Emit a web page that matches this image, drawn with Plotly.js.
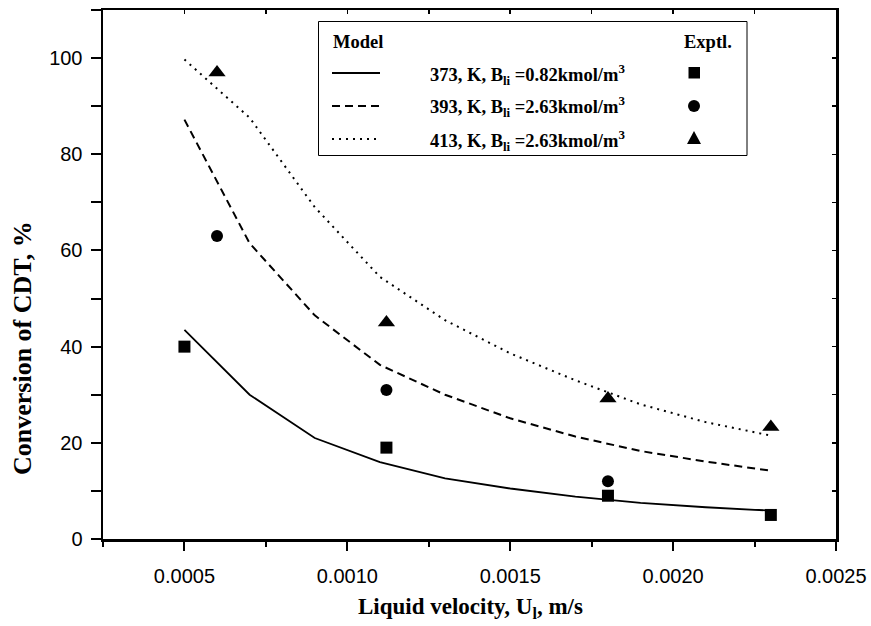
<!DOCTYPE html>
<html>
<head>
<meta charset="utf-8">
<script src="https://cdn.plot.ly/plotly-3.0.1.min.js"></script>
<style>html,body{margin:0;padding:0;background:#fff;}#chart{width:871px;height:626px;}</style>
</head>
<body>
<div id="chart"></div>
<script>
// ---- data ----
const modelVelocity = [0.0005, 0.0007, 0.0009, 0.0011, 0.0013, 0.0015, 0.0017, 0.0019, 0.0021, 0.0023];
const model373 = [43.5, 30.0, 21.0, 16.0, 12.6, 10.5, 8.8, 7.5, 6.6, 5.9];
const model393 = [87.2, 61.5, 46.5, 36.2, 30.0, 25.1, 21.3, 18.3, 16.1, 14.2];
const model413 = [99.7, 87.6, 69.0, 54.5, 45.5, 38.6, 33.0, 28.0, 24.3, 21.5];

const exp373Velocity = [0.0005, 0.00112, 0.0018, 0.0023];
const exp373 = [40, 19, 9, 5];
const exp393Velocity = [0.0006, 0.00112, 0.0018];
const exp393 = [63, 31, 12];
const exp413Velocity = [0.0006, 0.00112, 0.0018, 0.0023];
const exp413 = [97, 45, 29.2, 23.3];

const seriesLabels = [
  '373, K, B<sub>li</sub> =0.82kmol/m<sup>3</sup>',
  '393, K, B<sub>li</sub> =2.63kmol/m<sup>3</sup>',
  '413, K, B<sub>li</sub> =2.63kmol/m<sup>3</sup>'
];
const xTitle = 'Liquid velocity, U<sub>l</sub>, m/s';
const yTitle = 'Conversion of CDT, %';

// ---- layout helpers ----
const W = 871, H = 626;
const M = {l: 103, r: 35, t: 10, b: 87};
const PW = W - M.l - M.r, PH = H - M.t - M.b;
const px = x => (x - M.l) / PW;
const py = y => (H - M.b - y) / PH;

const serif = {family: 'Liberation Serif, Times New Roman, serif', size: 18.5, color: '#000', weight: 'bold'};
const sans = {family: 'Liberation Sans, Arial, sans-serif', size: 20, color: '#000'};

const lineStyles = [
  {color: '#000', width: 1.8, dash: 'solid'},
  {color: '#000', width: 2, dash: '8px,5px'},
  {color: '#000', width: 2, dash: '2px,5px'}
];

const traces = [
  {x: modelVelocity, y: model373, mode: 'lines', line: lineStyles[0], showlegend: false},
  {x: modelVelocity, y: model393, mode: 'lines', line: lineStyles[1], showlegend: false},
  {x: modelVelocity, y: model413, mode: 'lines', line: lineStyles[2], showlegend: false},
  {x: exp373Velocity, y: exp373, mode: 'markers', marker: {symbol: 'square', size: 12, color: '#000'}, showlegend: false},
  {x: exp393Velocity, y: exp393, mode: 'markers', marker: {symbol: 'circle', size: 12, color: '#000'}, showlegend: false},
  {x: exp413Velocity, y: exp413, mode: 'markers', marker: {symbol: 'triangle-up', size: 15, color: '#000'}, showlegend: false},
  {x: [], y: [], xaxis: 'x2', yaxis: 'y2', showlegend: false, hoverinfo: 'skip'}
];

const rowY = [73, 106, 139];
const shapes = [
  {type: 'rect', xref: 'paper', yref: 'paper', x0: px(318.5), x1: px(747), y0: py(155.5), y1: py(21.5),
   line: {color: '#000', width: 1}, fillcolor: 'rgba(0,0,0,0)'}
];
rowY.forEach((y, i) => {
  shapes.push({type: 'line', xref: 'paper', yref: 'paper', x0: px(332), x1: px(380), y0: py(y), y1: py(y), line: lineStyles[i]});
});
// legend marker glyphs
shapes.push({type: 'rect', xref: 'paper', yref: 'paper', x0: px(688.5), x1: px(700), y0: py(78.5), y1: py(67), fillcolor: '#000', line: {width: 0}});
shapes.push({type: 'circle', xref: 'paper', yref: 'paper', x0: px(688), x1: px(700), y0: py(112), y1: py(100), fillcolor: '#000', line: {width: 0}});
shapes.push({type: 'path', xref: 'paper', yref: 'paper',
  path: 'M ' + px(687) + ' ' + py(144) + ' L ' + px(701) + ' ' + py(144) + ' L ' + px(694) + ' ' + py(131) + ' Z',
  fillcolor: '#000', line: {width: 0}});

const annotations = [
  {text: 'Model', xref: 'paper', yref: 'paper', x: px(331), y: py(42), xanchor: 'left', yanchor: 'middle', showarrow: false, font: serif},
  {text: 'Exptl.', xref: 'paper', yref: 'paper', x: px(734), y: py(42), xanchor: 'right', yanchor: 'middle', showarrow: false, font: serif},
  {text: xTitle, xref: 'paper', yref: 'paper', x: px(470), y: py(608), xanchor: 'center', yanchor: 'middle', showarrow: false,
   font: Object.assign({}, serif, {size: 23})},
  {text: yTitle, xref: 'paper', yref: 'paper', x: px(22), y: py(348), xanchor: 'center', yanchor: 'middle', textangle: -90, showarrow: false,
   font: Object.assign({}, serif, {size: 26})}
];
seriesLabels.forEach((t, i) => {
  annotations.push({text: t, xref: 'paper', yref: 'paper', x: px(428), y: py(rowY[i] + 1), xanchor: 'left', yanchor: 'middle', showarrow: false, font: serif});
});

const xr = [0.00025, 0.0025], yr = [0, 110];
const layout = {
  width: W, height: H,
  margin: M,
  paper_bgcolor: '#fff', plot_bgcolor: '#fff',
  showlegend: false,
  xaxis: {range: xr, tick0: 0, dtick: 0.0005, tickformat: '.4f', ticks: 'outside', ticklen: 9, tickwidth: 2, tickcolor: '#000',
    minor: {tick0: 0, dtick: 0.00025, ticks: 'outside', ticklen: 5, tickwidth: 2, tickcolor: '#000'},
    showline: true, linewidth: 2.5, linecolor: '#000', showgrid: false, zeroline: false, tickfont: sans, ticklabelstandoff: 8},
  yaxis: {range: yr, tick0: 0, dtick: 20, ticks: 'outside', ticklen: 10, tickwidth: 2, tickcolor: '#000',
    minor: {tick0: 0, dtick: 10, ticks: 'outside', ticklen: 10, tickwidth: 2, tickcolor: '#000'},
    showline: true, linewidth: 2.5, linecolor: '#000', showgrid: false, zeroline: false, tickfont: sans, ticklabelstandoff: 4},
  xaxis2: {range: xr, overlaying: 'x', side: 'top', anchor: 'y', tick0: 0, dtick: 0.00025, ticks: 'inside', ticklen: 4, tickwidth: 1.5,
    tickcolor: '#000', showticklabels: false, showline: true, linewidth: 2.5, linecolor: '#000', showgrid: false, zeroline: false},
  yaxis2: {range: yr, overlaying: 'y', side: 'right', anchor: 'x', tick0: 0, dtick: 10, ticks: 'inside', ticklen: 4, tickwidth: 1.5,
    tickcolor: '#000', showticklabels: false, showline: true, linewidth: 2.5, linecolor: '#000', showgrid: false, zeroline: false},
  shapes: shapes,
  annotations: annotations
};

Plotly.newPlot('chart', traces, layout, {displayModeBar: false, staticPlot: true});
</script>
</body>
</html>
